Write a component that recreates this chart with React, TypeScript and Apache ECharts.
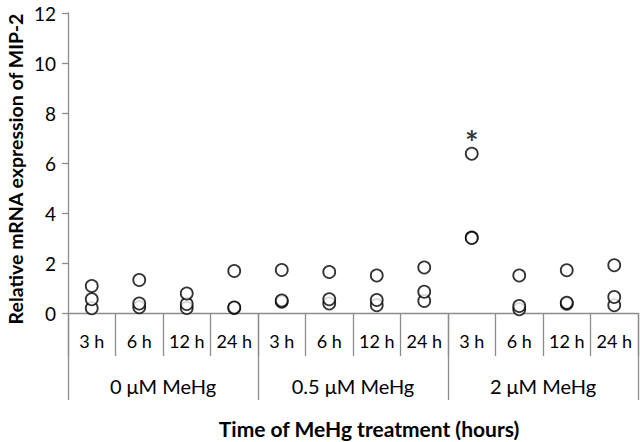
import React, { useEffect, useRef } from "react";
import * as echarts from "echarts";

const timeLabels = ["3 h", "6 h", "12 h", "24 h", "3 h", "6 h", "12 h", "24 h", "3 h", "6 h", "12 h", "24 h"];
const doseGroups = ["0 μM MeHg", "0.5 μM MeHg", "2 μM MeHg"];
const replicate1 = [1.08, 1.32, 0.78, 1.68, 1.72, 1.64, 1.5, 1.82, 6.37, 1.5, 1.71, 1.91];
const replicate2 = [0.55, 0.38, 0.36, 0.22, 0.5, 0.55, 0.52, 0.85, 3.0, 0.28, 0.41, 0.64];
const replicate3 = [0.19, 0.23, 0.2, 0.2, 0.45, 0.38, 0.31, 0.48, 3.02, 0.15, 0.37, 0.31];
const significantIndex = 8;
const yTicks = { min: 0, max: 12, interval: 2 };
const yTitle = "Relative mRNA expression of MIP-2";
const xTitle = "Time of MeHg treatment (hours)";

const FONT = "Lato, 'Open Sans', sans-serif";
const AXIS_COLOR = "#8c8c8c";

export default function App() {
  const ref = useRef<HTMLDivElement>(null);
  useEffect(() => {
    if (!ref.current) return;
    const chart = echarts.init(ref.current, null, { renderer: "svg" });
    const mk = (arr: number[], star: boolean) =>
      arr.map((v, i) => {
        const item: any = { value: [i, v] };
        if (star && i === significantIndex) {
          item.label = {
            show: true,
            formatter: "*",
            position: "top",
            distance: 0,
            offset: [0, 12],
            fontSize: 32,
            fontWeight: "bold",
            color: "#000",
            fontFamily: FONT,
          };
        }
        return item;
      });
    const scatterStyle = {
      type: "scatter",
      xAxisIndex: 0,
      symbol: "circle",
      symbolSize: 12,
      itemStyle: { color: "#fff", borderColor: "#000", borderWidth: 1.8 },
      silent: true,
    };
    chart.setOption({
      animation: false,
      textStyle: { fontFamily: FONT },
      grid: { left: 68, right: 2, top: 13, bottom: 129, containLabel: false, outerBoundsMode: "none" },
      xAxis: [
        {
          type: "category",
          data: timeLabels,
          position: "bottom",
          boundaryGap: true,
          axisLine: { show: true, lineStyle: { color: AXIS_COLOR, width: 1.3 } },
          axisTick: { show: true, interval: 0, length: 43, lineStyle: { color: AXIS_COLOR, width: 1.3 } },
          axisLabel: { interval: 0, fontSize: 18, color: "#000", margin: 19, fontFamily: FONT },
        },
        {
          type: "category",
          data: doseGroups,
          position: "bottom",
          boundaryGap: true,
          axisLine: { show: false },
          axisTick: { show: true, interval: 0, length: 87, lineStyle: { color: AXIS_COLOR, width: 1.3 } },
          axisLabel: { interval: 0, fontSize: 20, color: "#000", margin: 63, fontFamily: FONT },
        },
      ],
      yAxis: {
        type: "value",
        min: yTicks.min,
        max: yTicks.max,
        interval: yTicks.interval,
        axisLine: { show: true, lineStyle: { color: AXIS_COLOR, width: 1.3 } },
        axisTick: { show: true, length: 6, lineStyle: { color: AXIS_COLOR, width: 1.3 } },
        axisLabel: { fontSize: 19, color: "#000", margin: 12, fontFamily: FONT },
        splitLine: { show: false },
      },
      graphic: [
        {
          type: "text",
          x: 15,
          y: 169,
          rotation: Math.PI / 2,
          style: {
            text: yTitle,
            fontSize: 19.5,
            fontWeight: "bold",
            fill: "#000",
            fontFamily: FONT,
            align: "center",
            verticalAlign: "middle",
          },
        },
        {
          type: "text",
          x: 369,
          y: 428,
          style: {
            text: xTitle,
            fontSize: 21,
            fontWeight: "bold",
            fill: "#000",
            fontFamily: FONT,
            align: "center",
            verticalAlign: "middle",
          },
        },
      ],
      series: [
        { ...scatterStyle, data: mk(replicate1, true), z: 3 },
        { ...scatterStyle, data: mk(replicate2, false), z: 2 },
        { ...scatterStyle, data: mk(replicate3, false), z: 1 },
      ],
    });
    return () => chart.dispose();
  }, []);
  return <div ref={ref} style={{ width: 640, height: 442, position: "absolute", left: 0, top: 0, background: "#fff" }} />;
}
